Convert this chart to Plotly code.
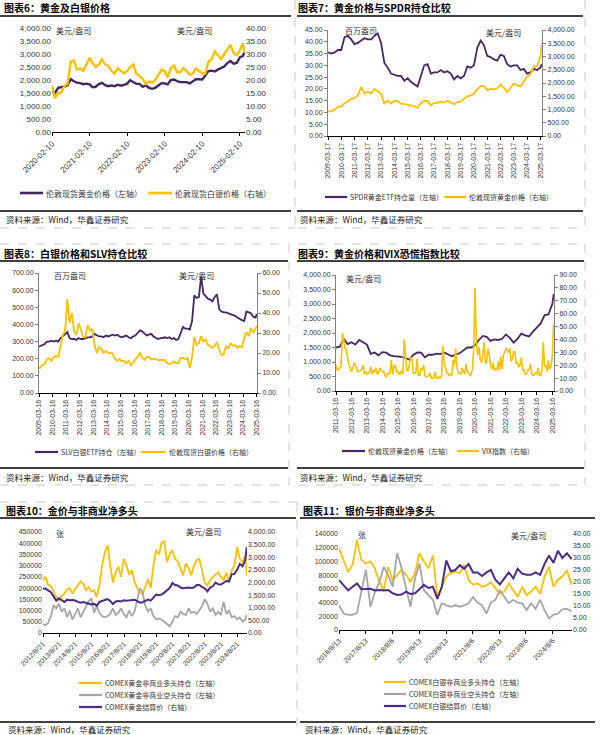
import plotly.graph_objects as go

W, H = 600, 735
def px(x): return x / W
def py(y): return 1 - y / H

def dates(y0, m0, y1, m1, step, day=15):
    out = []
    y, m = y0, m0
    while (y, m) <= (y1, m1):
        out.append(f"{y}-{m:02d}-{day:02d}")
        m += step
        while m > 12:
            m -= 12
            y += 1
    return out

# ---------------- 图表6 ----------------
p1_dates = ["2020-02-10"] + dates(2020, 3, 2025, 3, 1, 10) + ["2025-03-28"]
p1_gold = [1580, 1500, 1700, 1720, 1750, 1800, 2030, 1950, 1900, 1880, 1840,
           1860, 1830, 1720, 1740, 1840, 1890, 1800, 1760, 1790, 1760, 1820, 1780,
           1810, 1860, 1990, 1930, 1850, 1850, 1740, 1790, 1700, 1660, 1700, 1790,
           1880, 1870, 1830, 2000, 2020, 1960, 1920, 1920, 1920, 1870, 1960, 2030,
           2030, 2020, 2170, 2340, 2360, 2330, 2400, 2450, 2520, 2650, 2730, 2630,
           2660, 2880, 2920, 3100]
p1_silver = [17.8, 13.0, 15.0, 15.2, 17.8, 18.5, 27.0, 27.5, 24.0, 24.5, 23.5,
             26.0, 28.5, 26.5, 25.0, 26.0, 28.0, 26.0, 25.5, 23.5, 22.5, 24.5, 23.5,
             22.5, 23.5, 25.0, 26.0, 22.5, 21.5, 20.5, 18.5, 19.5, 19.0, 20.0, 22.0,
             24.0, 23.5, 21.0, 24.5, 25.5, 23.0, 23.0, 24.5, 23.5, 22.0, 22.5, 24.5,
             23.5, 22.5, 22.5, 27.0, 28.0, 31.0, 29.5, 28.0, 30.0, 31.5, 33.5, 30.5,
             29.5, 31.5, 34.0, 30.5]
p1_ticks = ["2020-02-10", "2021-02-10", "2022-02-10", "2023-02-10", "2024-02-10", "2025-02-10"]

# ---------------- 图表7 ----------------
p2_dates = ["2009-03-17"] + dates(2009, 6, 2025, 3, 3) + ["2025-04-25"]
p2_spdr = [35.5, 35.0, 35.5, 36.5,
           36.5, 42.0, 42.5, 41.0,
           39.0, 39.5, 40.5, 41.5,
           41.0, 41.0, 42.5, 43.5,
           39.5, 31.0, 29.0, 26.5,
           26.0, 25.5, 25.5, 23.5,
           24.5, 23.0, 22.0, 21.0,
           25.5, 30.0, 30.5, 26.5,
           27.0, 27.0, 28.0, 27.0,
           27.5, 26.5, 24.0, 25.5,
           24.5, 25.5, 29.5, 29.0,
           30.0, 37.5, 40.5, 38.5,
           34.0, 33.5, 32.5, 32.0,
           34.5, 34.0, 30.5, 29.5,
           30.0, 30.0, 28.0, 28.5,
           26.5, 27.0, 28.5, 28.0,
           29.0, 30.5]
p2_gold = [920, 940, 1000, 1100,
           1110, 1240, 1300, 1400,
           1430, 1530, 1850, 1600,
           1670, 1600, 1770, 1680,
           1600, 1230, 1330, 1220,
           1330, 1320, 1220, 1200,
           1180, 1170, 1130, 1060,
           1240, 1320, 1320, 1150,
           1250, 1250, 1300, 1260,
           1330, 1260, 1200, 1280,
           1300, 1410, 1500, 1520,
           1600, 1770, 1880, 1880,
           1720, 1780, 1760, 1800,
           1940, 1820, 1660, 1810,
           1980, 1920, 1870, 2060,
           2230, 2330, 2630, 2620,
           3000, 3450]
p2_ticks = [f"{y}-03-17" for y in range(2009, 2026)]

# ---------------- 图表8 ----------------
p3_dates = ["2009-03-16"] + dates(2009, 4, 2025, 2, 2) + ["2025-03-20"]
p3_slv = [270, 275, 280, 285, 300, 300,
          305, 300, 305, 300, 320, 330,
          345, 355, 320, 315, 315, 310,
          320, 315, 315, 320, 325, 325,
          330, 345, 335, 330, 330, 325,
          335, 330, 335, 340, 335, 340,
          330, 325, 330, 335, 325, 320,
          330, 335, 350, 365, 360, 345,
          335, 340, 345, 330, 320, 315,
          320, 320, 325, 320, 325, 315,
          320, 310, 315, 355, 385, 375,
          375, 370, 420, 570, 555, 560,
          680, 580, 565, 550, 545, 535,
          560, 575, 490, 475, 470, 470,
          465, 460, 455, 450, 440, 430,
          425, 420, 475, 470, 465, 445,
          440, 460]
p3_silver = [13.0, 12.5, 14.0, 14.5, 17.0, 17.5,
             16.0, 18.0, 18.5, 18.0, 23.0, 29.0,
             31.0, 47.0, 35.0, 40.0, 31.0, 29.0,
             35.0, 31.5, 28.0, 28.0, 34.0, 31.0,
             32.0, 24.0, 20.0, 23.0, 22.0, 20.0,
             21.0, 20.0, 20.0, 19.5, 17.0, 16.0,
             17.0, 16.0, 16.0, 15.0, 16.0, 14.0,
             15.0, 17.0, 18.0, 20.5, 17.5, 16.5,
             18.0, 18.0, 16.8, 17.0, 17.0, 16.5,
             16.5, 16.5, 16.5, 15.0, 14.5, 15.0,
             15.8, 15.0, 15.0, 17.5, 17.5, 17.0,
             17.5, 12.5, 17.8, 28.0, 24.0, 25.0,
             28.5, 25.5, 27.0, 24.0, 23.5, 22.5,
             23.5, 25.5, 21.5, 19.0, 19.5, 23.5,
             22.0, 25.0, 23.5, 24.0, 22.5, 23.5,
             22.8, 27.5, 30.5, 28.5, 32.5, 30.0,
             32.0, 33.5]
p3_ticks = [f"{y}-03-16" for y in range(2009, 2026)]

# ---------------- 图表9 ----------------
p4_gold_dates = ["2011-03-16"] + dates(2011, 6, 2025, 3, 3) + ["2025-04-20"]
p4_gold = [1500, 1530, 1800, 1620,
           1680, 1600, 1760, 1690,
           1600, 1280, 1330, 1230,
           1340, 1320, 1230, 1200,
           1190, 1180, 1130, 1080,
           1240, 1330, 1320, 1160,
           1250, 1250, 1290, 1270,
           1330, 1260, 1200, 1260,
           1300, 1400, 1500, 1500,
           1580, 1760, 1900, 1870,
           1730, 1780, 1760, 1800,
           1950, 1830, 1670, 1800,
           1980, 1920, 1880, 2050,
           2200, 2330, 2620, 2640,
           3000, 3350]
p4_vix_dates = ["2011-03-16"] + dates(2011, 4, 2025, 4, 1)
p4_vix = [20, 16, 17, 18, 20, 45, 40, 33, 32, 25,
          20, 18, 15, 17, 22, 20, 17, 15, 15, 16, 17, 20,
          13, 15, 13, 14, 14, 19, 13, 16, 15, 18, 13, 14,
          18, 16, 15, 15, 12, 11, 14, 13, 14, 24, 13, 19,
          20, 15, 15, 13, 13, 16, 13, 40, 25, 16, 16, 22,
          26, 25, 14, 14, 14, 25, 12, 12, 18, 16, 20, 12,
          11, 11, 12, 14, 10, 10, 10, 15, 10, 10, 11, 10,
          12, 35, 22, 18, 14, 14, 12, 13, 12, 24, 20, 33,
          18, 14, 14, 13, 18, 15, 13, 21, 15, 14, 12, 13,
          17, 35, 80, 38, 28, 34, 25, 22, 28, 38, 22, 22,
          33, 28, 20, 17, 22, 16, 18, 16, 23, 16, 27, 17,
          28, 30, 33, 32, 30, 33, 23, 25, 31, 30, 21, 22,
          19, 20, 26, 16, 17, 13, 13, 16, 17, 21, 13, 12,
          13, 14, 13, 18, 12, 12, 16, 38, 19, 20, 15, 24,
          17, 19, 27, 52]
p4_ticks = [f"{y}-03-16" for y in range(2011, 2026)]

# ---------------- 图表10 ----------------
p5_dates = ["2012-08-21"] + dates(2012, 10, 2025, 2, 2) + ["2025-03-20"]
p5_long = [235000, 250000, 215000,
           210000, 185000, 160000, 145000, 165000, 175000,
           195000, 200000, 175000, 195000, 210000, 230000,
           220000, 190000, 205000, 185000, 190000, 160000,
           215000, 300000, 360000, 390000, 300000, 225000,
           270000, 295000, 250000, 330000, 300000, 260000,
           280000, 230000, 200000, 180000, 175000, 205000,
           240000, 200000, 300000, 370000, 350000, 400000,
           410000, 316000, 350000, 370000, 330000, 320000,
           290000, 257000, 310000, 290000, 257000, 300000,
           325000, 330000, 280000, 225000, 212000, 235000,
           250000, 260000, 270000, 250000, 235000, 270000,
           225000, 280000, 300000, 383000, 330000, 316000,
           346000, 257000]
p5_short = [40000, 35000, 45000,
            75000, 125000, 110000, 130000, 95000, 110000,
            70000, 100000, 60000, 85000, 110000, 70000,
            95000, 120000, 140000, 155000, 90000, 120000,
            90000, 75000, 70000, 75000, 85000, 110000,
            80000, 90000, 110000, 85000, 70000, 100000,
            75000, 95000, 150000, 200000, 180000, 120000,
            95000, 110000, 75000, 60000, 65000, 60000,
            50000, 40000, 30000, 50000, 75000, 70000,
            95000, 85000, 80000, 110000, 90000, 95000,
            85000, 100000, 120000, 150000, 130000, 95000,
            110000, 80000, 95000, 80000, 140000, 85000,
            100000, 70000, 75000, 60000, 70000, 50000,
            60000, 80000]
p5_price = [1750, 1760, 1690,
            1620, 1450, 1280, 1380, 1320, 1230,
            1320, 1300, 1310, 1290, 1230, 1200,
            1230, 1200, 1180, 1130, 1160, 1080,
            1230, 1270, 1320, 1340, 1270, 1150,
            1250, 1270, 1250, 1300, 1280, 1300,
            1330, 1320, 1260, 1200, 1220, 1280,
            1320, 1280, 1400, 1520, 1500, 1520,
            1600, 1700, 1780, 1980, 1900, 1880,
            1800, 1770, 1780, 1800, 1780, 1800,
            1900, 1900, 1830, 1770, 1650, 1800,
            1850, 2000, 1930, 1920, 1990, 2060,
            2040, 2330, 2340, 2500, 2740, 2640,
            2900, 3400]
p5_tickdates = [f"{y}-08-21" for y in range(2012, 2025)]
p5_ticktext = [f"{y}/8/21" for y in range(2012, 2025)]

# ---------------- 图表11 ----------------
p6_dates = ["2016-08-13"] + dates(2016, 10, 2025, 2, 2) + ["2025-04-20"]
p6_long = [119000, 102000, 85000,
           95000, 131000, 102000, 97000, 100000, 90000,
           70000, 58000, 92000, 73000, 80000, 88000,
           80000, 70000, 83000, 112000, 100000, 90000,
           109000, 48000, 63000, 78000, 83000, 85000,
           83000, 95000, 73000, 66000, 68000, 63000,
           65000, 70000, 61000, 53000, 56000, 68000,
           58000, 48000, 63000, 51000, 56000, 63000,
           53000, 78000, 92000, 63000, 73000, 78000,
           87000, 66000]
p6_short = [36000, 24000, 22000,
            22000, 25000, 58000, 88000, 34000, 55000,
            70000, 92000, 80000, 63000, 112000, 90000,
            60000, 34000, 75000, 97000, 58000, 51000,
            44000, 22000, 39000, 36000, 34000, 36000,
            34000, 36000, 39000, 48000, 40000, 36000,
            24000, 40000, 44000, 58000, 48000, 39000,
            44000, 40000, 39000, 29000, 39000, 31000,
            44000, 29000, 17000, 22000, 24000, 30000,
            31000, 27000]
p6_price = [20.8, 18.7, 16.5,
            18.0, 19.4, 17.0, 17.0, 17.2, 16.5,
            16.7, 16.5, 16.7, 15.3, 14.6, 14.8,
            16.0, 15.0, 15.3, 17.0, 18.8, 17.5,
            18.0, 13.0, 18.0, 29.0, 24.5, 25.0,
            27.0, 25.5, 27.5, 24.0, 24.0, 22.5,
            24.0, 25.0, 21.0, 19.0, 21.5, 24.0,
            21.5, 25.5, 23.5, 23.0, 23.0, 24.0,
            23.0, 27.5, 31.0, 28.0, 33.0, 30.0,
            32.0, 29.5]
p6_tickdates = ["2016-08-13", "2017-08-13", "2018-08-06", "2019-08-13", "2020-08-13",
                "2021-08-06", "2022-08-13", "2023-08-06", "2024-08-06"]
p6_ticktext = ["2016/8/13", "2017/8/13", "2018/8/6", "2019/8/13", "2020/8/13",
               "2021/8/6", "2022/8/13", "2023/8/6", "2024/8/6"]

for a, b in [(p1_dates, p1_gold), (p1_dates, p1_silver), (p2_dates, p2_spdr), (p2_dates, p2_gold),
             (p3_dates, p3_slv), (p3_dates, p3_silver), (p4_gold_dates, p4_gold), (p4_vix_dates, p4_vix),
             (p5_dates, p5_long), (p5_dates, p5_short), (p5_dates, p5_price),
             (p6_dates, p6_long), (p6_dates, p6_short), (p6_dates, p6_price)]:
    assert len(a) == len(b), (len(a), len(b))

# ---------------- styling ----------------
PURPLE = "#45275F"
PURPLE2 = "#4B2C85"
YELLOW = "#FFC000"
GRAY = "#A6A6A6"
CJK = "Noto Sans CJK SC"
NUM = "Liberation Sans, Noto Sans CJK SC"
TXT = "#333333"

fig = go.Figure()

def add(x, y, n, right, color, width):
    fig.add_trace(go.Scatter(x=x, y=y, mode="lines", showlegend=False, hoverinfo="skip",
                             line=dict(color=color, width=width),
                             xaxis="x" if n == 1 else f"x{n}",
                             yaxis=f"y{2*n}" if right else ("y" if n == 1 else f"y{2*n-1}")))

add(p1_dates, p1_gold, 1, False, PURPLE, 2.4)
add(p1_dates, p1_silver, 1, True, YELLOW, 2.4)
add(p2_dates, p2_spdr, 2, False, PURPLE, 1.8)
add(p2_dates, p2_gold, 2, True, YELLOW, 1.8)
add(p3_dates, p3_slv, 3, False, PURPLE, 1.8)
add(p3_dates, p3_silver, 3, True, YELLOW, 1.8)
add(p4_gold_dates, p4_gold, 4, False, PURPLE, 1.8)
add(p4_vix_dates, p4_vix, 4, True, YELLOW, 1.6)
add(p5_dates, p5_long, 5, False, YELLOW, 1.8)
add(p5_dates, p5_short, 5, False, GRAY, 1.8)
add(p5_dates, p5_price, 5, True, PURPLE2, 2.0)
add(p6_dates, p6_long, 6, False, YELLOW, 1.8)
add(p6_dates, p6_short, 6, False, GRAY, 1.8)
add(p6_dates, p6_price, 6, True, PURPLE2, 2.0)

panels = [
    dict(n=1, x0=52, x1=245, yt=28, yb=132, xr=["2020-02-10", "2025-03-31"], tv=p1_ticks, tt=p1_ticks,
         ang=-45, L=(4000, 500, ",.2f"), R=(40, 5, ".2f"), vl=False, fs=8),
    dict(n=2, x0=328, x1=542, yt=30, yb=136, xr=["2009-03-17", "2025-04-30"], tv=p2_ticks, tt=p2_ticks,
         ang=-90, L=(45, 5, ".2f"), R=(4000, 500, ",.2f"), vl=True, fs=7),
    dict(n=3, x0=39, x1=257, yt=273, yb=393, xr=["2009-03-16", "2025-03-25"], tv=p3_ticks, tt=p3_ticks,
         ang=-90, L=(700, 100, ".2f"), R=(60, 10, ".2f"), vl=True, fs=7),
    dict(n=4, x0=336, x1=554, yt=275, yb=391, xr=["2011-03-16", "2025-04-25"], tv=p4_ticks, tt=p4_ticks,
         ang=-90, L=(4000, 500, ",.2f"), R=(90, 10, ".2f"), vl=True, fs=7),
    dict(n=5, x0=43, x1=247, yt=532, yb=633, xr=["2012-08-21", "2025-03-25"], tv=p5_tickdates, tt=p5_ticktext,
         ang=-45, L=(450000, 50000, "d"), R=(4000, 500, ",.2f"), vl=False, fs=7),
    dict(n=6, x0=339, x1=572, yt=534, yb=630, xr=["2016-08-13", "2025-04-25"], tv=p6_tickdates, tt=p6_ticktext,
         ang=-45, L=(140000, 20000, "d"), R=(40, 5, ".2f"), vl=False, fs=7),
]

layout = dict(width=W, height=H, autosize=False,
              margin=dict(l=0, r=0, t=0, b=0, pad=0, autoexpand=False),
              paper_bgcolor="white", plot_bgcolor="rgba(0,0,0,0)", showlegend=False,
              font=dict(family=NUM, color=TXT))

for p in panels:
    n = p["n"]
    xk = "xaxis" if n == 1 else f"xaxis{n}"
    ylk = "yaxis" if n == 1 else f"yaxis{2*n-1}"
    yrk = f"yaxis{2*n}"
    yl_id = "y" if n == 1 else f"y{2*n-1}"
    x_id = "x" if n == 1 else f"x{n}"
    layout[xk] = dict(domain=[px(p["x0"]), px(p["x1"])], anchor=yl_id, type="date", range=p["xr"],
                      tickmode="array", tickvals=p["tv"], ticktext=p["tt"], tickangle=p["ang"],
                      ticks="outside", ticklen=3, tickcolor="#000", showline=True, linecolor="#000",
                      linewidth=1, showgrid=False, zeroline=False, automargin=False,
                      tickfont=dict(size=p["fs"], family=NUM, color=TXT))
    vl = p["vl"]
    for key, spec, side in [(ylk, p["L"], "left"), (yrk, p["R"], "right")]:
        ax = dict(range=[0, spec[0]], dtick=spec[1], tick0=0, tickformat=spec[2], showgrid=False,
                  zeroline=False, showline=vl, linecolor="#7f7f7f", linewidth=1, automargin=False,
                  ticks="outside" if vl else "", ticklen=3, tickcolor="#7f7f7f",
                  tickfont=dict(size=p["fs"], family=NUM, color=TXT), side=side, anchor=x_id)
        if side == "left":
            ax["domain"] = [py(p["yb"]), py(p["yt"])]
        else:
            ax["overlaying"] = yl_id
        layout[key] = ax

shapes = []
annotations = []

def hline(x0, x1, y, color="#000", width=1.2, dash="solid"):
    shapes.append(dict(type="line", xref="paper", yref="paper", x0=px(x0), x1=px(x1), y0=py(y), y1=py(y),
                       line=dict(color=color, width=width, dash=dash)))

def vline(x, y0, y1, color="#BFBFBF", width=1, dash="dash"):
    shapes.append(dict(type="line", xref="paper", yref="paper", x0=px(x), x1=px(x), y0=py(y0), y1=py(y1),
                       line=dict(color=color, width=width, dash=dash)))

def text(x, y, s, size=8, family=CJK, color=TXT, xanchor="left"):
    annotations.append(dict(xref="paper", yref="paper", x=px(x), y=py(y), text=s, showarrow=False,
                            xanchor=xanchor, yanchor="middle", borderpad=0,
                            font=dict(size=size, family=family, color=color)))

def legend_item(x0, x1, y, color, label, size=7, width=2.2):
    hline(x0, x1, y, color=color, width=width)
    text(x1 + 1.5, y, label, size=size)

SRC = "资料来源：Wind，华鑫证券研究"

# dashed frames
DG = "#C8C8C8"
hline(0, 295, 228, DG, 1, "dash"); vline(295, 0, 228, DG)
hline(298, 585, 228, DG, 1, "dash"); vline(585, 0, 228, DG)
hline(0, 289, 244, DG, 1, "dash"); hline(0, 289, 485, DG, 1, "dash"); vline(289, 244, 485, DG)
hline(298, 585, 244, DG, 1, "dash"); hline(298, 585, 485, DG, 1, "dash"); vline(585, 244, 485, DG)
hline(0, 297, 502, DG, 1, "dash"); vline(297, 502, 735, DG)

# titles + rules + sources
titles = [(3, 8, "图表6：黄金及白银价格", 0, 291, 16, 211, 219, 8.5),
          (297, 8, "图表7：黄金价格与SPDR持仓比较", 297, 583, 16, 211, 219, 8.5),
          (3, 253, "图表8：白银价格和SLV持仓比较", 0, 288, 261, 468, 477, 8.5),
          (297, 253, "图表9：黄金价格和VIX恐慌指数比较", 297, 584, 261, 468, 477, 8.5),
          (5, 510, "图表10：金价与非商业净多头", 0, 296, 518, 722, 728.5, 8.5),
          (302, 510, "图表11：银价与非商业净多头", 300, 595, 518, 722, 728.5, 8.5)]
for tx, ty, t, l0, l1, ly, sy, st, ss in titles:
    text(tx, ty, f"<b>{t}</b>", size=10, color="#000")
    hline(l0, l1, ly, "#000", 1.3)
    hline(l0, l1, sy, "#000", 1.3)
    text(tx + 2, st, SRC, size=ss, color="#222")

# unit labels
text(55, 30, "美元/盎司"); text(176, 30, "美元/盎司")
text(344, 30, "百万盎司"); text(485, 32, "美元/盎司")
text(53, 275, "百万盎司"); text(178, 275, "美元/盎司")
text(345, 278, "美元/盎司")
text(55, 533, "张"); text(185, 531, "美元/盎司")
text(357, 534, "张"); text(510, 535, "美元/盎司")

# legends
legend_item(20, 43, 193, PURPLE, "伦敦现货黄金价格（左轴）", size=8, width=2.6)
legend_item(148, 172, 193, YELLOW, "伦敦现货白银价格（右轴）", size=8, width=2.6)
legend_item(325, 347, 197, PURPLE, "SPDR黄金ETF持仓量（左轴）")
legend_item(444, 466, 197, YELLOW, "伦敦现货黄金价格（右轴）")
legend_item(35, 58, 452, PURPLE, "SLV白银ETF持仓（左轴）")
legend_item(141, 166, 452, YELLOW, "伦敦现货白银价格（右轴）")
legend_item(342, 365, 451, PURPLE, "伦敦现货黄金价格（左轴）")
legend_item(457, 479, 451, YELLOW, "VIX指数（右轴）")
legend_item(79, 102, 683, YELLOW, "COMEX黄金非商业多头持仓（左轴）")
legend_item(79, 102, 695, GRAY, "COMEX黄金非商业空头持仓（左轴）")
legend_item(79, 102, 707, PURPLE2, "COMEX黄金结算价（右轴）")
legend_item(384, 406, 682, YELLOW, "COMEX白银非商业多头持仓（左轴）")
legend_item(384, 406, 694, GRAY, "COMEX白银非商业空头持仓（左轴）")
legend_item(384, 406, 706, PURPLE2, "COMEX白银结算价（右轴）")

layout["shapes"] = shapes
layout["annotations"] = annotations
fig.update_layout(**layout)
fig.write_html("out.html", config={"displayModeBar": False, "staticPlot": True},
               post_script="document.body.style.margin='0';document.body.style.overflow='hidden';")
